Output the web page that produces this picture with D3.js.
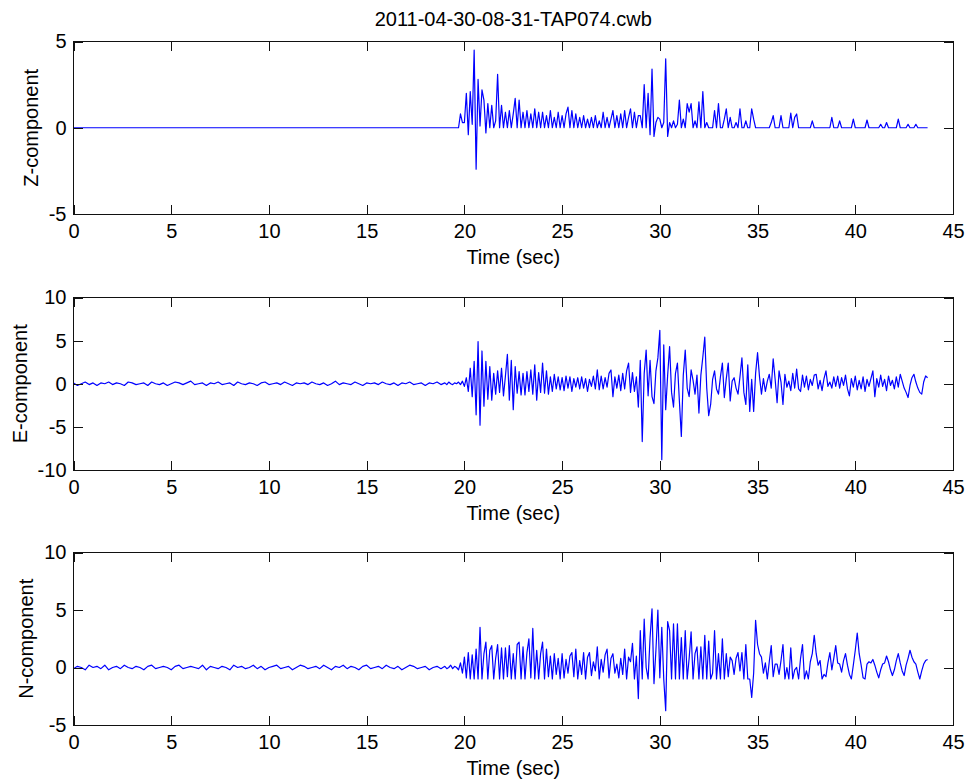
<!DOCTYPE html>
<html>
<head>
<meta charset="utf-8">
<script src="https://cdn.jsdelivr.net/npm/d3@7"></script>
<style>
  body { margin: 0; background: #fff; }
  svg { display: block; font-family: "Liberation Sans", Arial, sans-serif; }
</style>
</head>
<body>
<svg id="chart"></svg>
<script>
const title = "2011-04-30-08-31-TAP074.cwb";
const xLabel = "Time (sec)";
const xTicks = [0, 5, 10, 15, 20, 25, 30, 35, 40, 45];

// pre-event noise: one sample every 0.2 s from 0 s
const NOISE_DT = 0.2;
// event part: one sample every 0.1 s from 19.0 s (each row = 1 s)
const WAVE_T0 = 19.0;
const WAVE_DT = 0.1;

const zTicks = [-5, 0, 5];
const eTicks = [-10, -5, 0, 5, 10];
const nTicks = [-5, 0, 5, 10];

const zNoise = [
  0, 0, 0, 0, 0, 0, 0, 0, 0, 0, 0, 0, 0, 0, 0, 0, 0, 0, 0, 0,
  0, 0, 0, 0, 0, 0, 0, 0, 0, 0, 0, 0, 0, 0, 0, 0, 0, 0, 0, 0,
  0, 0, 0, 0, 0, 0, 0, 0, 0, 0, 0, 0, 0, 0, 0, 0, 0, 0, 0, 0,
  0, 0, 0, 0, 0, 0, 0, 0, 0, 0, 0, 0, 0, 0, 0, 0, 0, 0, 0, 0,
  0, 0, 0, 0, 0, 0, 0, 0, 0, 0, 0, 0, 0, 0, 0
];

const zWave = [
  0, 0, 0, 0, 0, 0, 0, 0, 0.8, 0.3,
  0.3, 2.0, -0.4, 2.1, 0.2, 4.5, -2.4, 2.8, 0.1, 2.2,
  1.6, -0.3, 1.4, 0, 1.3, 0, 0.4, 3.1, 0, 1.3,
  0, 0.9, 0, 1.0, 0, 0.8, 1.7, 0, 1.6, 0,
  0.9, 0, 1.0, 0, 0.8, 0, 1.1, 0, 0.9, 0,
  0.9, 0, 0.7, 0, 1.0, 0, 0.6, 0, 0.9, 0,
  0.7, 0, 0.8, 1.2, 0, 1.0, 0, 0.8, 0, 0.6,
  0, 0.7, 0, 0.5, 0, 0.6, 0, 0.7, 0, 0.4,
  0, 0.9, 0, 0.6, 0, 0.5, 1.0, 0, 0.7, 0,
  0.8, 0, 1.0, 0, 0.6, 1.1, 0, 0.9, 0, 0.7,
  0.7, 0, 2.5, 0, 2.0, -0.4, 3.4, -0.5, 0.3, 0.6,
  0.5, 0, 0.3, 4.0, -0.5, 0.3, 0, 0.4, 0, 0.2,
  1.6, 0, 0.5, 0, 1.4, 0.9, 1.4, 0, 0.4, 0,
  1.5, 0, 2.1, 0, 0.3, 0, 0, 0, 1.0, 0,
  1.4, 0, 0, 0.5, 1.1, 0, 0.6, 0, 0, 0.3,
  0, 1.1, 0, 0, 0.4, 0, 0, 1.1, 0.5, 0,
  0, 0, 0, 0, 0, 0, 0, 0.3, 0.7, 0,
  0, 0, 0.7, 0, 0, 0, 0, 0.85, 0, 0.6,
  0.8, 0, 0, 0, 0, 0, 0, 0, 0.4, 0,
  0, 0, 0, 0, 0, 0, 0, 0, 0.6, 0,
  0, 0, 0.4, 0, 0, 0, 0, 0, 0, 0.5,
  0, 0, 0, 0, 0, 0, 0.45, 0, 0, 0,
  0, 0, 0, 0.2, 0, 0, 0.3, 0, 0, 0,
  0, 0, 0.5, 0, 0, 0, 0, 0.2, 0, 0,
  0, 0.2, 0, 0, 0, 0, 0, 0
];

const eNoise = [
  0.1, -0.2, 0.0, 0.2, -0.1, 0.1, -0.2, 0.1, 0.0, 0.2,
  -0.1, 0.1, 0.0, -0.2, 0.2, 0.1, -0.1, 0.0, 0.1, -0.2,
  0.2, 0.0, -0.1, 0.1, -0.2, 0.0, 0.2, 0.1, -0.1, 0.1,
  0.3, -0.1, 0.0, 0.1, -0.2, 0.1, 0.0, 0.2, -0.1, 0.0,
  0.1, -0.2, 0.2, 0.0, -0.1, 0.1, 0.0, -0.2, 0.1, 0.2,
  -0.1, 0.0, 0.1, -0.1, 0.2, 0.0, -0.2, 0.1, 0.0, 0.1,
  -0.1, 0.2, 0.0, -0.1, 0.1, -0.2, 0.0, 0.3, -0.1, 0.1,
  0.0, -0.1, 0.2, 0.0, -0.2, 0.1, 0.0, 0.1, -0.1, 0.2,
  0.0, -0.1, 0.1, -0.2, 0.1, 0.0, 0.2, -0.1, 0.0, 0.1,
  -0.2, 0.1, 0.0, 0.2, -0.1
];

const eWave = [
  0.1, -0.1, 0.2, 0, -0.1, 0.1, 0, 0.2, -0.1, 0.3,
  -0.3, 0.7, -0.9, 1.8, -1.5, 2.6, -3.6, 4.9, -4.8, 3.8,
  -2.6, 2.6, -1.8, 2.0, -1.9, 1.2, -1.2, 1.5, -1.0, 1.8,
  -1.4, 0.9, 3.4, -1.9, 2.7, -3.0, 2.0, -1.1, 1.4, -1.3,
  1.2, -1.3, 1.4, -0.9, 1.6, -1.2, 2.2, -1.9, 1.3, -1.0,
  2.4, -1.1, 1.5, -1.2, 0.8, -0.9, 1.1, -0.6, 0.8, -0.7,
  0.7, -0.8, 0.9, -0.5, 0.8, -0.9, 0.6, -0.4, 0.7, -0.6,
  0.8, -0.5, 0.6, -0.9, 0.5, -0.3, 0.9, -0.6, 1.6, -0.7,
  0.9, -0.6, 0.7, -0.4, 1.2, 1.6, -1.5, 0.8, -0.5, 1.0,
  -0.8, 1.2, -0.6, 1.5, 2.4, -1.0, 1.3, -0.9, 0.8, -2.7,
  2.7, -6.7, 1.2, 3.9, -1.4, 2.7, -1.5, -2.3, 1.5, 3.0,
  6.2, -8.8, 4.5, -3.0, 1.0, 4.3, -1.0, -2.7, 1.2, 2.4,
  -2.0, -6.1, 1.0, 3.9, -0.5, -1.5, 1.6, 0.4, -1.2, 1.0,
  -3.4, 1.0, 3.1, 5.4, -0.5, -3.7, -2.4, 0.5, 1.5, -0.6,
  -1.2, 0.8, 2.4, -1.6, 0.6, 2.4, -2.0, 0.3, 0.7, -0.5,
  -1.2, 0.8, 3.0, -1.0, -2.4, 2.2, -3.2, 0.5, -3.2, 1.2,
  3.6, 0.8, -1.2, 0.6, -0.9, 0.3, 1.1, -0.5, 2.9, 0.5,
  -2.2, 1.5, 0.2, -2.4, 1.1, -0.4, 0.3, -0.8, 1.2, -0.5,
  1.7, -0.6, -0.9, 1.0, -0.4, 0.9, -0.7, 0.5, -0.2, 1.0,
  1.1, -0.6, 0.4, -0.8, 0.6, 1.5, -0.3, 0.2, -0.5, 0.8,
  -0.3, 0.9, -0.5, 0.7, -0.2, 1.0, -0.6, -1.4, 0.6, -0.4,
  0.9, -0.7, 0.4, -0.6, 0.8, -0.9, 0.5, -0.3, 0.6, 1.5,
  -1.5, 0.6, -0.4, 1.0, -0.3, 0.5, -0.8, 0.9, -0.2, 0.4,
  -0.6, 0.8, -0.4, 1.1, 0.3, -0.5, -1.0, -1.6, -0.2, 0.7,
  1.1, 0.2, -0.5, -1.0, -1.2, 0.2, 0.9, 0.7
];

const nNoise = [
  -0.1, 0.1, 0.0, -0.2, 0.2, 0.0, 0.1, -0.1, 0.2, -0.2,
  0.0, 0.1, -0.1, 0.2, 0.0, -0.1, 0.1, 0.0, -0.2, 0.1,
  0.2, -0.1, 0.0, 0.1, 0.0, -0.2, 0.1, 0.2, -0.1, 0.0,
  0.1, 0.0, -0.1, 0.2, -0.2, 0.1, 0.0, -0.1, 0.1, 0.0,
  -0.2, 0.2, 0.0, 0.1, -0.1, 0.0, 0.2, -0.1, 0.1, -0.2,
  0.0, 0.1, 0.2, -0.1, 0.0, 0.1, -0.2, 0.0, 0.2, 0.1,
  -0.1, 0.0, 0.1, -0.1, 0.2, 0.0, -0.2, 0.1, 0.0, 0.2,
  -0.1, 0.1, 0.0, -0.2, 0.1, 0.2, -0.1, 0.0, 0.1, -0.1,
  0.2, 0.0, -0.1, 0.1, -0.2, 0.0, 0.2, 0.1, -0.1, 0.0,
  0.1, -0.2, 0.0, 0.1, -0.1
];

const nWave = [
  0.1, -0.1, 0, 0.2, -0.1, 0.1, 0, -0.2, 0.4, -0.5,
  0.9, -0.9, 1.3, -1.0, 1.1, -1.0, 1.6, -1.0, 3.5, -1.0,
  1.2, 2.2, -1.0, 1.5, 1.9, -1.0, 0.8, 2.0, -1.0, 1.7,
  -1.0, 1.7, -0.8, 1.9, -1.0, 1.2, -1.0, 2.0, 2.2, -1.0,
  1.8, -1.0, 1.3, 2.5, -0.9, 3.4, -1.0, 1.5, -1.0, 1.2,
  2.2, -1.0, 1.6, -0.8, 1.0, -1.0, 1.2, -0.6, 0.8, -1.0,
  1.2, -0.9, 0.7, -0.5, 1.0, 1.3, -0.8, 1.6, -1.0, 0.6,
  -0.6, 1.3, -1.0, 0.9, 1.3, -0.7, 0.5, -0.3, 1.8, -1.0,
  0.7, -0.4, 1.1, 1.6, -0.9, 0.8, 1.2, -0.5, 0.3, -0.9,
  0.8, -0.6, 1.6, -1.0, 0.9, 0.5, 2.1, -1.0, 1.0, -2.7,
  3.2, -1.0, 4.2, 0, -1.0, 2.6, 5.1, -1.4, 1.5, 5.0,
  -0.9, 3.5, -1.0, -3.75, 4.0, 3.2, -1.0, 3.8, -1.0, 3.8,
  -1.0, 2.6, -1.0, 3.2, -1.0, 0.8, 3.1, -1.0, 1.2, 1.8,
  -1.0, 1.8, -1.0, 2.8, -1.0, 2.3, -1.0, -0.5, 3.2, -1.0,
  1.2, -1.0, 2.5, -1.0, 1.2, -0.8, 0.9, 0.6, -0.6, 0.8,
  1.3, -0.3, 1.3, -1.0, 2.0, -1.0, -1.0, -2.6, -0.5, 4.1,
  2.0, 1.2, 0.9, -0.5, 0.4, -1.0, 0.5, 1.9, -0.8, 0.3,
  0.3, -0.6, 0.6, 2.0, -1.0, 0, -1.0, 1.7, -1.0, -0.2,
  0, -1.0, 0.8, 2.0, -1.0, -0.3, -1.0, 0.5, 1.2, 2.8,
  1.2, 0.2, 0.6, -1.0, -0.6, -0.8, 0.4, 1.3, -0.2, 0.8,
  1.9, 0.4, 0.3, -0.4, 0.6, 1.2, 0.2, -0.6, -1.0, 0.2,
  1.5, 3.0, 1.2, 0.2, -0.9, -1.0, 0.3, 0.5, 0.4, 0.7,
  0.2, -0.4, -0.9, -0.2, 0.3, 0.4, 1.0, 0.5, -0.2, -0.7,
  -0.2, 0.6, 1.2, 0.4, -0.3, -0.7, 0.2, 0.8, 1.5, 0.9,
  0.5, 0.3, -0.4, -1.0, -0.3, 0.3, 0.6, 0.7
];

const panels = [
  { label: "Z-component", noise: zNoise, wave: zWave, domain: [-5, 5], ticks: zTicks },
  { label: "E-component", noise: eNoise, wave: eWave, domain: [-10, 10], ticks: eTicks },
  { label: "N-component", noise: nNoise, wave: nWave, domain: [-5, 10], ticks: nTicks }
];

const width = 970, height = 782;
const left = 73.5, right = 953;
const panelTops = [41.5, 297.5, 552.5];
const panelH = 172.5;
const FONT = 20;

const svg = d3.select("#chart")
  .attr("width", width)
  .attr("height", height);

svg.append("text")
  .attr("x", (left + right) / 2)
  .attr("y", 26)
  .attr("text-anchor", "middle")
  .attr("font-size", FONT)
  .text(title);

const x = d3.scaleLinear().domain([0, 45]).range([left, right]);
const fmt = d => String(d);

panels.forEach((p, i) => {
  const top = panelTops[i];
  const bottom = top + panelH;
  const y = d3.scaleLinear().domain(p.domain).range([bottom, top]);

  const pts = p.noise.map((v, k) => [k * NOISE_DT, v])
    .concat(p.wave.map((v, k) => [WAVE_T0 + k * WAVE_DT, v]));

  const g = svg.append("g");

  g.append("path")
    .datum(pts)
    .attr("fill", "none")
    .attr("stroke", "#0000ff")
    .attr("stroke-width", 1.2)
    .attr("stroke-linejoin", "round")
    .attr("d", d3.line().x(d => x(d[0])).y(d => y(d[1])));

  const styleAxis = sel => {
    sel.attr("font-size", FONT)
      .attr("font-family", "Liberation Sans, Arial, sans-serif")
      .attr("color", "#111");
    sel.select(".domain").remove();
    sel.selectAll(".tick line").attr("shape-rendering", "crispEdges");
    sel.selectAll(".tick text").attr("fill", "#000");
  };

  g.append("g")
    .attr("transform", `translate(0,${bottom})`)
    .call(d3.axisBottom(x).tickValues(xTicks).tickFormat(fmt)
      .tickSizeInner(-9).tickSizeOuter(0).tickPadding(10))
    .call(styleAxis);

  g.append("g")
    .attr("transform", `translate(0,${top})`)
    .call(d3.axisTop(x).tickValues(xTicks).tickFormat("")
      .tickSizeInner(-9).tickSizeOuter(0))
    .call(styleAxis);

  const yAxisG = g.append("g")
    .attr("transform", `translate(${left},0)`)
    .call(d3.axisLeft(y).tickValues(p.ticks).tickFormat(fmt)
      .tickSizeInner(-9).tickSizeOuter(0).tickPadding(7))
    .call(styleAxis);

  g.append("g")
    .attr("transform", `translate(${right},0)`)
    .call(d3.axisRight(y).tickValues(p.ticks).tickFormat("")
      .tickSizeInner(-9).tickSizeOuter(0))
    .call(styleAxis);

  g.append("rect")
    .attr("x", left)
    .attr("y", top)
    .attr("width", right - left)
    .attr("height", panelH)
    .attr("fill", "none")
    .attr("stroke", "#111")
    .attr("shape-rendering", "crispEdges");

  let maxW = 0;
  yAxisG.selectAll(".tick text").each(function() {
    maxW = Math.max(maxW, this.getComputedTextLength());
  });
  const labelX = left - 7 - maxW - 11;
  g.append("text")
    .attr("transform", `translate(${labelX},${(top + bottom) / 2}) rotate(-90)`)
    .attr("text-anchor", "middle")
    .attr("font-size", FONT)
    .text(p.label);

  g.append("text")
    .attr("x", (left + right) / 2)
    .attr("y", bottom + 50)
    .attr("text-anchor", "middle")
    .attr("font-size", FONT)
    .text(xLabel);
});
</script>
</body>
</html>
